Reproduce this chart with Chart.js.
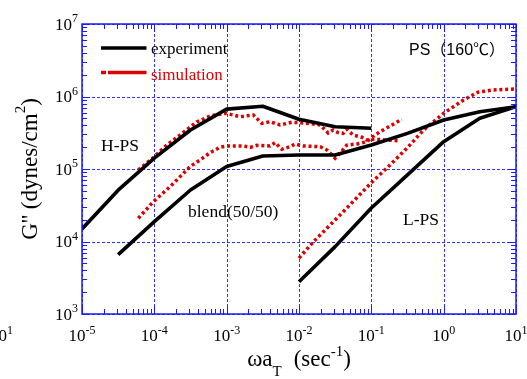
<!DOCTYPE html>
<html>
<head>
<meta charset="utf-8">
<script src="https://cdn.jsdelivr.net/npm/chart.js@4.4.1/dist/chart.umd.min.js"></script>
<style>
  html, body { margin: 0; padding: 0; background: #fff; }
  #wrap { width: 527px; height: 379px; position: relative; }
</style>
</head>
<body>
<div id="wrap"><canvas id="chart"></canvas></div>
<script>
// decade exponents used for grid + tick labels
const xTickExp = [-5, -4, -3, -2, -1, 0, 1];
const yTickExp = [3, 4, 5, 6, 7];

// H-PS
const hpsExpX = [1e-5, 3.16e-5, 1e-4, 3.16e-4, 1e-3, 3.16e-3, 1e-2, 3.16e-2, 1e-1];
const hpsExpY = [1.49e4, 5.1e4, 1.41e5, 3.45e5, 6.7e5, 7.35e5, 4.85e5, 3.83e5, 3.64e5];
const hpsSimX = [6.0e-5, 9.7e-5, 1.48e-4, 2.26e-4, 3.85e-4, 5.9e-4, 9.8e-4, 1.53e-3, 2.34e-3, 3.06e-3,
  3.98e-3, 5.48e-3, 7.95e-3, 1.04e-2, 1.58e-2, 1.96e-2, 2.53e-2, 2.96e-2, 3.48e-2, 4.07e-2,
  4.58e-2, 5.6e-2, 7.4e-2, 8.7e-2, 0.113, 0.164, 0.237];
const hpsSimY = [9.7e4, 1.44e5, 2.14e5, 2.94e5, 4.45e5, 5.38e5, 5.87e5, 5.26e5, 5.56e5, 4.27e5,
  4.49e5, 4.05e5, 4.41e5, 4.35e5, 4.18e5, 4.05e5, 3.14e5, 3.45e5, 3.17e5, 3.1e5,
  3.53e5, 2.94e5, 2.74e5, 2.51e5, 2.57e5, 2.51e5, 2.45e5];

// blend(50/50)
const blendExpX = [3.16e-5, 1e-4, 3.16e-4, 1e-3, 3.16e-3, 1e-2, 3.16e-2, 1e-1, 3.16e-1, 1, 3.16, 10];
const blendExpY = [6.6e3, 1.88e4, 5.13e4, 1.08e5, 1.51e5, 1.56e5, 1.56e5, 2.14e5, 3.1e5, 4.74e5, 6.17e5, 7.23e5];
const blendSimX = [6.0e-5, 9.7e-5, 1.65e-4, 3.12e-4, 4.29e-4, 5.9e-4, 8.1e-4, 1e-3, 1.7e-3, 2.11e-3,
  2.61e-3, 3.98e-3, 4.67e-3, 5.78e-3, 7.5e-3, 8.8e-3, 1.15e-2, 1.96e-2, 2.43e-2, 3.16e-2,
  3.7e-2, 4.58e-2, 6.3e-2, 8.7e-2, 0.103, 0.132, 0.182, 0.264];
const blendSimY = [2.09e4, 3.54e4, 5.7e4, 1.08e5, 1.33e5, 1.68e5, 1.99e5, 2.08e5, 2.08e5, 1.99e5,
  2.12e5, 2.08e5, 2.31e5, 1.87e5, 2.03e5, 2.21e5, 2.08e5, 2.03e5, 1.83e5, 1.41e5,
  1.65e5, 2.14e5, 2.21e5, 2.38e5, 2.76e5, 3.27e5, 3.92e5, 4.85e5];

// L-PS
const lpsExpX = [1e-2, 3.16e-2, 1e-1, 3.16e-1, 1, 3.16, 10];
const lpsExpY = [2.79e3, 8.5e3, 2.9e4, 8.3e4, 2.38e5, 5.0e5, 7.23e5];
const lpsSimX = [1e-2, 1.58e-2, 3.33e-2, 9.6e-2, 0.172, 0.31, 0.526, 1.0, 1.88, 3.0, 4.89, 10];
const lpsSimY = [5.9e3, 9.9e3, 2.09e4, 6.2e4, 1.08e5, 1.93e5, 3.45e5, 5.87e5, 8.95e5, 1.15e6, 1.23e6, 1.27e6];

const BLUE = '#1a1aff';
const RED = '#dd0000';
const SERIF = "'Liberation Serif', 'Times New Roman', serif";

function pts(xs, ys) {
  return xs.map((x, i) => ({ x: x, y: ys[i] }));
}

function expLine(xs, ys) {
  return { data: pts(xs, ys), borderColor: '#000', borderWidth: 3.6, showLine: true,
    pointRadius: 0, tension: 0, borderJoinStyle: 'round' };
}
function simLine(xs, ys) {
  return { data: pts(xs, ys), borderColor: RED, borderWidth: 3.5, showLine: true,
    pointRadius: 0, tension: 0, borderDash: [3, 2.8], borderCapStyle: 'butt' };
}

// draws "base" with a superscript; align = 'center' | 'right'
function drawPow(ctx, base, sup, x, baseline, align, bf, sf, rise) {
  ctx.font = bf;
  const wb = ctx.measureText(base).width;
  ctx.font = sf;
  const ws = ctx.measureText(sup).width;
  let x0 = align === 'right' ? x - wb - ws : x - (wb + ws) / 2;
  ctx.textAlign = 'left';
  ctx.textBaseline = 'alphabetic';
  ctx.font = bf;
  ctx.fillText(base, x0, baseline);
  ctx.font = sf;
  ctx.fillText(sup, x0 + wb, baseline - rise);
}

const framePlugin = {
  id: 'frame',
  beforeDatasetsDraw(chart) {
    // dashed decade grid
    const { ctx, chartArea: a, scales } = chart;
    ctx.save();
    ctx.strokeStyle = '#3030ff';
    ctx.lineWidth = 1;
    ctx.setLineDash([3, 2]);
    ctx.beginPath();
    xTickExp.forEach(e => {
      const px = Math.round(scales.x.getPixelForValue(Math.pow(10, e))) + 0.5;
      ctx.moveTo(px, a.top); ctx.lineTo(px, a.bottom);
    });
    yTickExp.forEach(e => {
      const py = Math.round(scales.y.getPixelForValue(Math.pow(10, e))) + 0.5;
      ctx.moveTo(a.left, py); ctx.lineTo(a.right, py);
    });
    ctx.stroke();
    ctx.restore();
  },
  afterDatasetsDraw(chart) {
    const { ctx, chartArea: a, scales } = chart;
    const xs = scales.x, ys = scales.y;
    ctx.save();
    ctx.strokeStyle = BLUE;
    ctx.lineWidth = 1;
    ctx.beginPath();
    xTickExp.forEach(e => {
      for (let m = 1; m <= 9; m++) {
        const v = m * Math.pow(10, e);
        if (v > xs.max * 1.001) continue;
        const px = Math.round(xs.getPixelForValue(v)) + 0.5;
        const len = m === 1 ? 8 : 5;
        ctx.moveTo(px, a.bottom); ctx.lineTo(px, a.bottom - len);
        ctx.moveTo(px, a.top); ctx.lineTo(px, a.top + len);
      }
    });
    yTickExp.forEach(e => {
      for (let m = 1; m <= 9; m++) {
        const v = m * Math.pow(10, e);
        if (v > ys.max * 1.001) continue;
        const py = Math.round(ys.getPixelForValue(v)) + 0.5;
        const len = m === 1 ? 8 : 5;
        ctx.moveTo(a.left, py); ctx.lineTo(a.left + len, py);
        ctx.moveTo(a.right, py); ctx.lineTo(a.right - len, py);
      }
    });
    ctx.stroke();
    ctx.lineWidth = 1.5;
    ctx.strokeRect(a.left, a.top, a.right - a.left, a.bottom - a.top);
    ctx.restore();
  },
  afterDraw(chart) {
    const { ctx, chartArea: a, scales } = chart;
    const xs = scales.x, ys = scales.y;
    ctx.save();
    ctx.fillStyle = '#000';
    const bf = '17px ' + SERIF, sf = '12px ' + SERIF;

    // tick labels
    xTickExp.forEach(e => {
      const px = xs.getPixelForValue(Math.pow(10, e));
      drawPow(ctx, '10', String(e), px, a.bottom + 27, 'center', bf, sf, 7.5);
    });
    yTickExp.forEach(e => {
      const py = ys.getPixelForValue(Math.pow(10, e));
      drawPow(ctx, '10', String(e), a.left - 4, py + 5.5, 'right', bf, sf, 7.5);
    });
    // stray label at far left
    drawPow(ctx, '10', '1', a.left - 80.5, a.bottom + 27, 'center', bf, sf, 7.5);

    // x axis title
    const tf = '23px ' + SERIF, tsf = '15px ' + SERIF;
    ctx.font = tf; const w1 = ctx.measureText('\u03c9a').width;
    ctx.font = tsf; const w2 = ctx.measureText('T').width;
    const gap = 12;
    ctx.font = tf; const w3 = ctx.measureText('(sec').width;
    ctx.font = tsf; const w4 = ctx.measureText('-1').width;
    ctx.font = tf; const w5 = ctx.measureText(')').width;
    let tx = (a.left + a.right) / 2 - (w1 + w2 + gap + w3 + w4 + w5) / 2;
    const tb = 366;
    ctx.textAlign = 'left';
    ctx.font = tf; ctx.fillText('\u03c9a', tx, tb); tx += w1;
    ctx.font = tsf; ctx.fillText('T', tx, tb + 10); tx += w2 + gap;
    ctx.font = tf; ctx.fillText('(sec', tx, tb); tx += w3;
    ctx.font = tsf; ctx.fillText('-1', tx, tb - 10); tx += w4;
    ctx.font = tf; ctx.fillText(')', tx, tb);

    // y axis title
    ctx.save();
    ctx.translate(37, (a.top + a.bottom) / 2);
    ctx.rotate(-Math.PI / 2);
    ctx.font = tf; const y1 = ctx.measureText("G'' (dynes/cm").width;
    ctx.font = tsf; const y2 = ctx.measureText('2').width;
    ctx.font = tf; const y3 = ctx.measureText(')').width;
    let ty = -(y1 + y2 + y3) / 2;
    ctx.font = tf; ctx.fillText("G'' (dynes/cm", ty, 0); ty += y1;
    ctx.font = tsf; ctx.fillText('2', ty, -12); ty += y2;
    ctx.font = tf; ctx.fillText(')', ty, 0);
    ctx.restore();

    // curve labels
    const lf = '17.5px ' + SERIF;
    ctx.font = lf;
    ctx.fillText('H-PS', 101, 151);
    ctx.fillText('blend(50/50)', 188, 217);
    ctx.fillText('L-PS', 403, 225);
    ctx.font = "16px 'Liberation Sans', 'Noto Sans CJK JP', sans-serif";
    ctx.fillText('PS\uff08160\u2103\uff09', 409, 55);

    // legend
    ctx.lineWidth = 3.5;
    ctx.strokeStyle = '#000';
    ctx.beginPath(); ctx.moveTo(101, 48); ctx.lineTo(146.5, 48); ctx.stroke();
    ctx.strokeStyle = RED;
    ctx.beginPath(); ctx.moveTo(101, 72.5); ctx.lineTo(106, 72.5);
    ctx.moveTo(108, 72.5); ctx.lineTo(146.5, 72.5); ctx.stroke();
    ctx.font = '17px ' + SERIF;
    ctx.fillStyle = '#000';
    ctx.fillText('experiment', 151, 54);
    ctx.fillStyle = RED;
    ctx.fillText('simulation', 151, 80);
    ctx.restore();
  }
};

function decadeTicks(exps) {
  return function (scale) {
    scale.ticks = exps.map(e => ({ value: Math.pow(10, e) }));
  };
}

new Chart(document.getElementById('chart'), {
  type: 'scatter',
  data: {
    datasets: [
      expLine(hpsExpX, hpsExpY),
      expLine(blendExpX, blendExpY),
      expLine(lpsExpX, lpsExpY),
      simLine(hpsSimX, hpsSimY),
      simLine(blendSimX, blendSimY),
      simLine(lpsSimX, lpsSimY)
    ]
  },
  options: {
    responsive: true,
    maintainAspectRatio: false,
    animation: false,
    layout: { padding: { left: 82, right: 11, top: 24, bottom: 65 } },
    plugins: { legend: { display: false }, tooltip: { enabled: false } },
    scales: {
      x: {
        type: 'logarithmic', min: 1e-5, max: 10,
        afterBuildTicks: decadeTicks(xTickExp),
        ticks: { display: false },
        grid: { display: false, drawTicks: false },
        border: { display: false }
      },
      y: {
        type: 'logarithmic', min: 1e3, max: 1e7,
        afterBuildTicks: decadeTicks(yTickExp),
        ticks: { display: false },
        grid: { display: false, drawTicks: false },
        border: { display: false }
      }
    }
  },
  plugins: [framePlugin]
});
</script>
</body>
</html>
